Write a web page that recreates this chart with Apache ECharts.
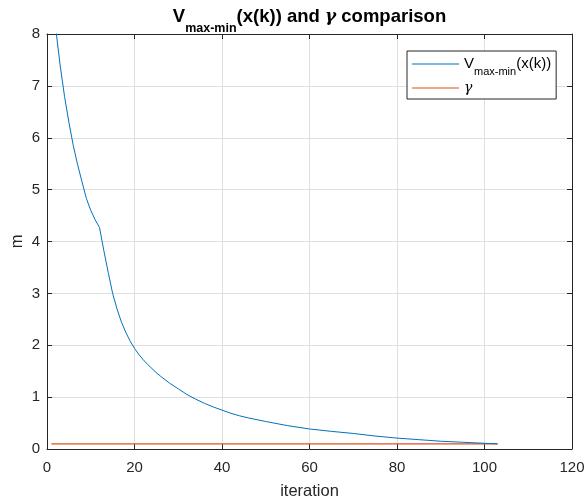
<!DOCTYPE html>
<html><head><meta charset="utf-8">
<script src="https://cdn.jsdelivr.net/npm/echarts@6/dist/echarts.min.js"></script>
<style>html,body{margin:0;padding:0;background:#fff}#c{width:585px;height:504px}</style>
</head><body><div id="c"></div>
<script>
// iteration index and V_max-min(x(k)) values
const iterX = [1,2,3,4,5,6,7,8,9,10,11,12,13,14,15,16,17,18,19,20,21,22,23,24,25,26,28,30,32,34,36,38,40,42,44,46,50,55,60,65,70,75,80,85,90,95,100,103];
const vMaxMin = [8.75,8.1,7.4,6.8,6.3,5.85,5.48,5.15,4.83,4.6,4.42,4.27,3.82,3.4,3.0,2.7,2.45,2.25,2.08,1.94,1.82,1.72,1.63,1.55,1.47,1.40,1.27,1.16,1.05,0.96,0.88,0.81,0.75,0.69,0.64,0.60,0.53,0.45,0.386,0.34,0.30,0.25,0.21,0.18,0.15,0.13,0.11,0.10];
// gamma threshold
const gammaX = [1, 103];
const gammaY = [0.1, 0.1];
// axis ticks
const xTicks = [0,20,40,60,80,100,120];
const yTicks = [0,1,2,3,4,5,6,7,8];

const FONT = 'Liberation Sans, Arial, Helvetica, sans-serif';
const AX = '#262626';
const GRID = '#dfdfdf';

const vData = iterX.map((x, i) => [x, vMaxMin[i]]);
const gData = gammaX.map((x, i) => [x, gammaY[i]]);

const xStep = xTicks[1] - xTicks[0];
const yStep = yTicks[1] - yTicks[0];

function mkX(pos, main) {
  return {
    type: 'value', position: pos, gridIndex: 0,
    min: xTicks[0], max: xTicks[xTicks.length - 1], interval: xStep,
    name: main ? 'iteration' : '', nameLocation: 'middle', nameGap: 34, nameMoveOverlap: false,
    nameTextStyle: { fontFamily: FONT, fontSize: 16.5, color: AX },
    axisLine: { show: true, onZero: false, lineStyle: { color: AX, width: 1 } },
    axisTick: { show: true, inside: true, length: 5, lineStyle: { color: AX } },
    axisLabel: { show: main, margin: 11, fontFamily: FONT, fontSize: 15, color: AX },
    splitLine: { show: main, lineStyle: { color: GRID, width: 1 } }
  };
}
function mkY(pos, main) {
  return {
    type: 'value', position: pos, gridIndex: 0,
    min: yTicks[0], max: yTicks[yTicks.length - 1], interval: yStep,
    name: main ? 'm' : '', nameLocation: 'middle', nameGap: 21, nameMoveOverlap: false,
    nameTextStyle: { fontFamily: FONT, fontSize: 16.5, color: AX },
    axisLine: { show: true, onZero: false, lineStyle: { color: AX, width: 1 } },
    axisTick: { show: true, inside: true, length: 5, lineStyle: { color: AX } },
    axisLabel: { show: main, margin: 7, fontFamily: FONT, fontSize: 15, color: AX },
    splitLine: { show: main, lineStyle: { color: GRID, width: 1 } }
  };
}

const chart = echarts.init(document.getElementById('c'), null, { renderer: 'canvas' });
chart.setOption({
  animation: false,
  backgroundColor: '#fff',
  title: {
    text: '{n|V}{s|max-min}{n|(x(k)) and }{g|γ}{n| comparison}',
    left: 309.5, textAlign: 'center', top: 6.5, padding: 0,
    textStyle: {
      fontFamily: FONT,
      rich: {
        n: { fontFamily: FONT, fontSize: 18.5, fontWeight: 'bold', color: '#000', lineHeight: 20, verticalAlign: 'middle' },
        s: { fontFamily: FONT, fontSize: 12.5, fontWeight: 'bold', color: '#000', lineHeight: 12, verticalAlign: 'middle', padding: [24, 0, 0, 0] },
        g: { fontFamily: 'DejaVu Serif, serif', fontSize: 17, fontStyle: 'italic', color: '#000', lineHeight: 20, verticalAlign: 'middle' }
      }
    }
  },
  legend: {
    orient: 'vertical', left: 407, top: 51,
    padding: [0, 5, 4, 5], itemGap: 4,
    itemWidth: 47, itemHeight: 1, icon: 'rect',
    backgroundColor: '#fff', borderColor: AX, borderWidth: 1, borderRadius: 0,
    data: ['V', 'gamma'],
    formatter: function (name) {
      return name === 'V' ? '{n|V}{s|max-min}{n|(x(k))}' : '{g|γ}';
    },
    textStyle: {
      fontFamily: FONT, color: '#000',
      rich: {
        n: { fontFamily: FONT, fontSize: 15, color: '#000', lineHeight: 16, verticalAlign: 'middle' },
        s: { fontFamily: FONT, fontSize: 11, color: '#000', lineHeight: 11, verticalAlign: 'middle', padding: [15, 0, 0, 0] },
        g: { fontFamily: 'DejaVu Serif, serif', fontSize: 14, fontStyle: 'italic', color: '#000', lineHeight: 16, verticalAlign: 'middle' }
      }
    }
  },
  grid: { left: 47, right: 13, top: 34, bottom: 55, containLabel: false, outerBoundsMode: 'none' },
  xAxis: [mkX('bottom', true), mkX('top', false)],
  yAxis: [mkY('left', true), mkY('right', false)],
  series: [
    {
      name: 'V', type: 'line', data: vData, showSymbol: false, symbol: 'none', clip: true,
      lineStyle: { color: '#0072BD', width: 1 }, itemStyle: { color: '#0072BD' }, z: 3
    },
    {
      name: 'gamma', type: 'line', data: gData, showSymbol: false, symbol: 'none', clip: true,
      lineStyle: { color: '#D95319', width: 1.3 }, itemStyle: { color: '#D95319' }, z: 2
    }
  ]
});
</script>
</body></html>
